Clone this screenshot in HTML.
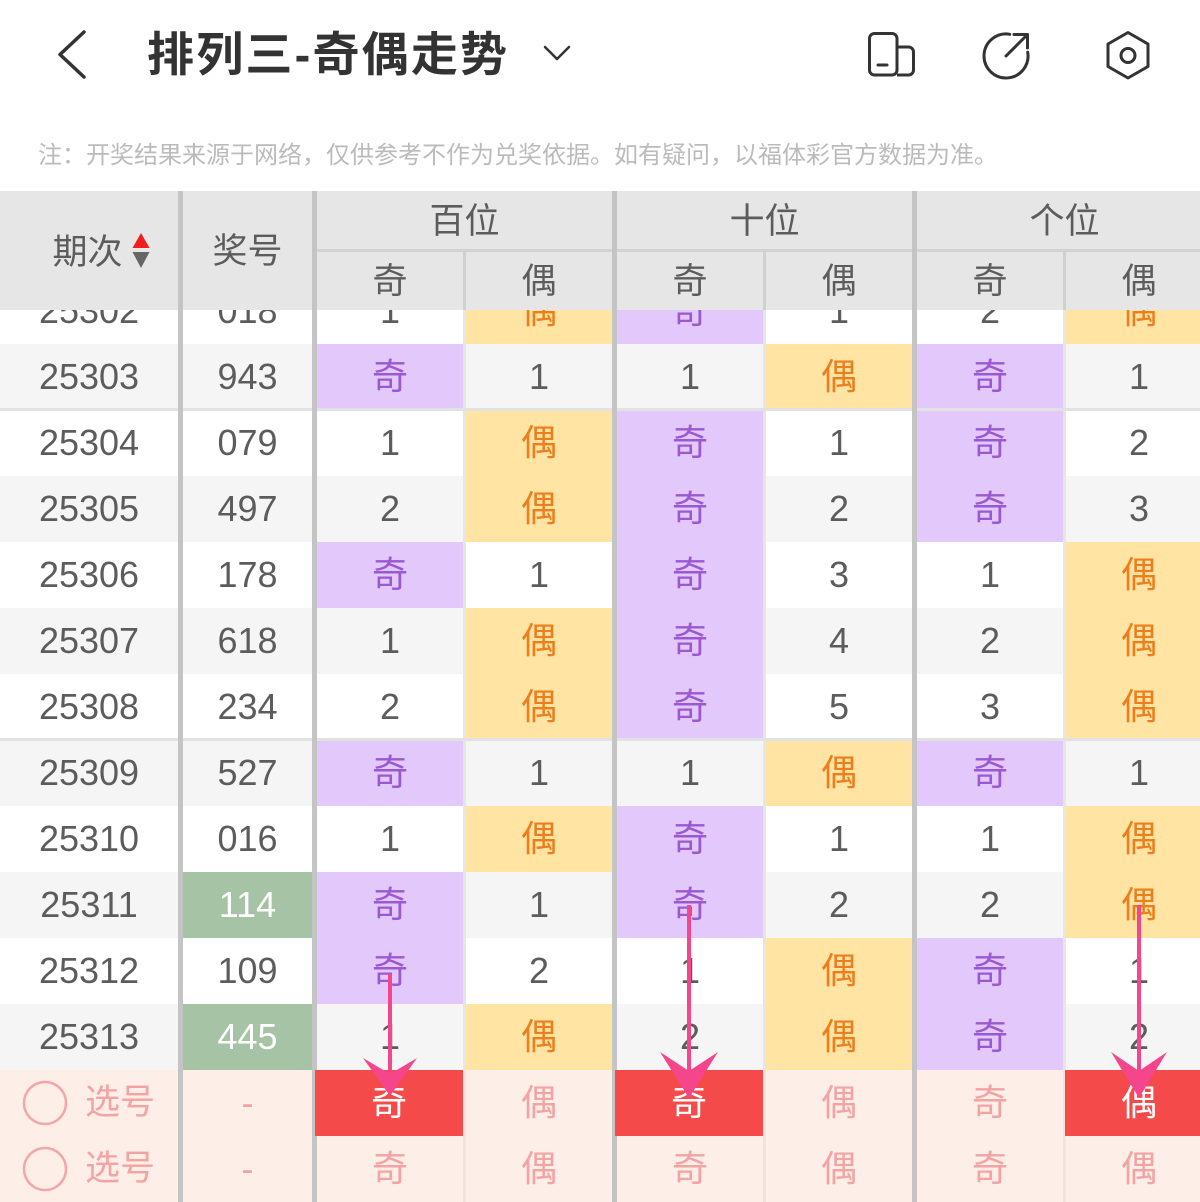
<!DOCTYPE html>
<html><head><meta charset="utf-8">
<style>
*{margin:0;padding:0;box-sizing:border-box}
html,body{width:1200px;height:1202px;overflow:hidden;background:#fff}
body{position:relative;font-family:"Liberation Sans","Noto Sans CJK SC",sans-serif;color:#5c5c5c}
.abs{position:absolute}
.r{position:absolute;left:0;width:1200px;height:66px;z-index:1}
.r>div{position:absolute;top:0;height:66px;line-height:66px;text-align:center;font-size:36px}
.w{background:#fff}.y{background:#f5f5f5}.p{background:#fdeee8}
.a{left:0;width:178px}
.b{left:183px;width:129px}
.c1{left:317px;width:146px}
.c2{left:466px;width:146px}
.d1{left:617px;width:146px}
.d2{left:766px;width:146px}
.e1{left:917px;width:146px}
.e2{left:1066px;width:146px}
.o{background:#e3c8fb;color:#9a58d2}
.v{background:#ffe4a4;color:#ee7d1c}
.g{background:#a7c3a5;color:#fff}
.red{position:absolute;top:1070px;height:66px;line-height:66px;text-align:center;font-size:36px;background:#f44a4a;color:#fff;z-index:5}
.pk{color:#f4a3a3}
.sep{position:absolute;top:191px;height:1011px;width:5px;background:#c4c4c4;z-index:4}
.thin{position:absolute;width:3px;z-index:4}
.gl{position:absolute;left:0;width:1200px;height:3px;background:#e2e2e2;z-index:2}
.hd{position:absolute;text-align:center;font-size:35px;color:#5c5c5c;z-index:3}
</style></head><body>

<!-- top bar -->
<svg class="abs" style="left:0;top:0;z-index:5" width="1200" height="120" viewBox="0 0 1200 120">
  <polyline points="84,32 60,54.5 84,77" fill="none" stroke="#333" stroke-width="3.5" stroke-linecap="round" stroke-linejoin="round"/>
  <polyline points="545,47 557,59 569,47" fill="none" stroke="#333" stroke-width="2.5" stroke-linecap="round" stroke-linejoin="round"/>
  <!-- icon 1 -->
  <rect x="869.5" y="33.5" width="27.5" height="41.5" rx="5" fill="none" stroke="#333" stroke-width="3"/>
  <path d="M897,47 h11.5 a5,5 0 0 1 5,5 v18 a5,5 0 0 1 -5,5 h-11.5" fill="none" stroke="#333" stroke-width="3"/>
  <line x1="878" y1="65" x2="887" y2="65" stroke="#333" stroke-width="3" stroke-linecap="round"/>
  <!-- icon 2 -->
  <path d="M1027.7,52.2 A22,22 0 1 1 1009.8,34.3" fill="none" stroke="#333" stroke-width="3" stroke-linecap="round"/>
  <line x1="1006" y1="56" x2="1027" y2="35" stroke="#333" stroke-width="3" stroke-linecap="round"/>
  <polyline points="1014,34.5 1027.5,34.5 1027.5,48" fill="none" stroke="#333" stroke-width="3" stroke-linecap="round" stroke-linejoin="round"/>
  <!-- icon 3 -->
  <polygon points="1128,32.5 1148,44 1148,66.5 1128,78 1108,66.5 1108,44" fill="none" stroke="#333" stroke-width="3" stroke-linejoin="round"/>
  <circle cx="1128" cy="55.5" r="7" fill="none" stroke="#333" stroke-width="3"/>
</svg>
<div class="abs" style="left:147px;top:30px;height:50px;line-height:50px;font-size:47px;font-weight:bold;color:#333;white-space:nowrap;letter-spacing:2.2px">排列三-奇偶走势</div>
<div class="abs" style="left:38px;top:141px;height:30px;line-height:30px;font-size:24px;color:#bbb;white-space:nowrap">注：开奖结果来源于网络，仅供参考不作为兑奖依据。如有疑问，以福体彩官方数据为准。</div>

<!-- table header -->
<div class="abs" style="left:0;top:191px;width:1200px;height:119px;background:#e6e6e6;z-index:3"></div>
<div class="abs" style="left:317px;top:249px;width:883px;height:3px;background:#d2d2d2;z-index:3"></div>
<div class="hd" style="left:40px;top:228px;width:95px;height:50px;line-height:50px;">期次</div>
<svg class="abs" style="left:130px;top:230px;z-index:3" width="22" height="42" viewBox="0 0 22 42">
  <polygon points="11,3 19.5,18 2.5,18" fill="#f21c1c"/>
  <polygon points="2.5,22 19.5,22 11,38" fill="#666"/>
</svg>
<div class="hd" style="left:183px;top:227px;width:129px;height:50px;line-height:50px;">奖号</div>
<div class="hd" style="left:317px;top:197px;width:295px;height:50px;line-height:50px;">百位</div>
<div class="hd" style="left:617px;top:197px;width:295px;height:50px;line-height:50px;">十位</div>
<div class="hd" style="left:917px;top:197px;width:295px;height:50px;line-height:50px;">个位</div>
<div class="hd" style="left:317px;top:257px;width:146px;height:50px;line-height:50px;">奇</div>
<div class="hd" style="left:466px;top:257px;width:146px;height:50px;line-height:50px;">偶</div>
<div class="hd" style="left:617px;top:257px;width:146px;height:50px;line-height:50px;">奇</div>
<div class="hd" style="left:766px;top:257px;width:146px;height:50px;line-height:50px;">偶</div>
<div class="hd" style="left:917px;top:257px;width:146px;height:50px;line-height:50px;">奇</div>
<div class="hd" style="left:1066px;top:257px;width:146px;height:50px;line-height:50px;">偶</div>

<!-- separators -->
<div class="sep" style="left:178px"></div>
<div class="sep" style="left:312px"></div>
<div class="sep" style="left:612px"></div>
<div class="sep" style="left:912px"></div>
<div class="thin" style="left:463px;top:252px;height:58px;background:#d0d0d0"></div>
<div class="thin" style="left:763px;top:252px;height:58px;background:#d0d0d0"></div>
<div class="thin" style="left:1063px;top:252px;height:58px;background:#d0d0d0"></div>
<div class="thin" style="left:463px;top:310px;height:760px;background:#e6e6e6;z-index:2"></div>
<div class="thin" style="left:763px;top:310px;height:760px;background:#e6e6e6;z-index:2"></div>
<div class="thin" style="left:1063px;top:310px;height:760px;background:#e6e6e6;z-index:2"></div>
<div class="thin" style="left:463px;top:1070px;height:132px;background:#f3e2dd;z-index:2"></div>
<div class="thin" style="left:763px;top:1070px;height:132px;background:#f3e2dd;z-index:2"></div>
<div class="thin" style="left:1063px;top:1070px;height:132px;background:#f3e2dd;z-index:2"></div>

<div class="gl" style="top:408px"></div>
<div class="gl" style="top:738px"></div>

<!-- rows -->
<div class="r w" style="top:278px"><div class="a">25302</div><div class="b">018</div><div class="c1">1</div><div class="c2 v">偶</div><div class="d1 o">奇</div><div class="d2">1</div><div class="e1">2</div><div class="e2 v">偶</div></div>
<div class="r y" style="top:344px"><div class="a">25303</div><div class="b">943</div><div class="c1 o">奇</div><div class="c2">1</div><div class="d1">1</div><div class="d2 v">偶</div><div class="e1 o">奇</div><div class="e2">1</div></div>
<div class="r w" style="top:410px"><div class="a">25304</div><div class="b">079</div><div class="c1">1</div><div class="c2 v">偶</div><div class="d1 o">奇</div><div class="d2">1</div><div class="e1 o">奇</div><div class="e2">2</div></div>
<div class="r y" style="top:476px"><div class="a">25305</div><div class="b">497</div><div class="c1">2</div><div class="c2 v">偶</div><div class="d1 o">奇</div><div class="d2">2</div><div class="e1 o">奇</div><div class="e2">3</div></div>
<div class="r w" style="top:542px"><div class="a">25306</div><div class="b">178</div><div class="c1 o">奇</div><div class="c2">1</div><div class="d1 o">奇</div><div class="d2">3</div><div class="e1">1</div><div class="e2 v">偶</div></div>
<div class="r y" style="top:608px"><div class="a">25307</div><div class="b">618</div><div class="c1">1</div><div class="c2 v">偶</div><div class="d1 o">奇</div><div class="d2">4</div><div class="e1">2</div><div class="e2 v">偶</div></div>
<div class="r w" style="top:674px"><div class="a">25308</div><div class="b">234</div><div class="c1">2</div><div class="c2 v">偶</div><div class="d1 o">奇</div><div class="d2">5</div><div class="e1">3</div><div class="e2 v">偶</div></div>
<div class="r y" style="top:740px"><div class="a">25309</div><div class="b">527</div><div class="c1 o">奇</div><div class="c2">1</div><div class="d1">1</div><div class="d2 v">偶</div><div class="e1 o">奇</div><div class="e2">1</div></div>
<div class="r w" style="top:806px"><div class="a">25310</div><div class="b">016</div><div class="c1">1</div><div class="c2 v">偶</div><div class="d1 o">奇</div><div class="d2">1</div><div class="e1">1</div><div class="e2 v">偶</div></div>
<div class="r y" style="top:872px"><div class="a">25311</div><div class="b g">114</div><div class="c1 o">奇</div><div class="c2">1</div><div class="d1 o">奇</div><div class="d2">2</div><div class="e1">2</div><div class="e2 v">偶</div></div>
<div class="r w" style="top:938px"><div class="a">25312</div><div class="b">109</div><div class="c1 o">奇</div><div class="c2">2</div><div class="d1">1</div><div class="d2 v">偶</div><div class="e1 o">奇</div><div class="e2">1</div></div>
<div class="r y" style="top:1004px"><div class="a">25313</div><div class="b g">445</div><div class="c1">1</div><div class="c2 v">偶</div><div class="d1">2</div><div class="d2 v">偶</div><div class="e1 o">奇</div><div class="e2">2</div></div>
<div class="r p" style="top:1070px"><div class="a pk" style="text-align:left;padding-left:85px;font-size:35px">选号</div><div class="b pk">-</div><div class="c2 pk">偶</div><div class="d2 pk">偶</div><div class="e1 pk">奇</div></div>
<div class="r p" style="top:1136px"><div class="a pk" style="text-align:left;padding-left:85px;font-size:35px">选号</div><div class="b pk">-</div><div class="c1 pk">奇</div><div class="c2 pk">偶</div><div class="d1 pk">奇</div><div class="d2 pk">偶</div><div class="e1 pk">奇</div><div class="e2 pk">偶</div></div>

<div class="red" style="left:315px;width:148px">奇</div>
<div class="red" style="left:615px;width:148px">奇</div>
<div class="red" style="left:1065px;width:148px">偶</div>

<!-- circles + arrows overlay -->
<svg class="abs" style="left:0;top:0;z-index:6" width="1200" height="1202" viewBox="0 0 1200 1202">
  <circle cx="45" cy="1103" r="21" fill="none" stroke="#f4a6a6" stroke-width="2.5"/>
  <circle cx="45" cy="1169" r="21" fill="none" stroke="#f4a6a6" stroke-width="2.5"/>
  <g stroke="#f5468c" stroke-width="4" fill="none">
    <line x1="390" y1="974" x2="390" y2="1088"/>
    <line x1="689" y1="905" x2="689" y2="1088"/>
    <line x1="1139" y1="905" x2="1139" y2="1088"/>
  </g>
  <g fill="#f5468c">
    <polygon points="363,1058 390,1096 417,1058 390,1074"/>
    <polygon points="660,1052 689,1098 718,1052 689,1071"/>
    <polygon points="1111,1052 1139,1098 1167,1052 1139,1071"/>
  </g>
</svg>
</body></html>
